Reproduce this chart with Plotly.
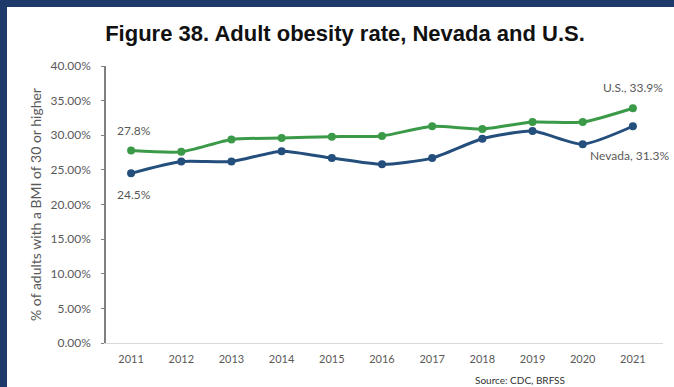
import plotly.graph_objects as go

years = [2011, 2012, 2013, 2014, 2015, 2016, 2017, 2018, 2019, 2020, 2021]
us_rate = [27.8, 27.6, 29.4, 29.6, 29.8, 29.9, 31.3, 30.9, 31.9, 31.9, 33.9]
nevada_rate = [24.5, 26.2, 26.2, 27.7, 26.7, 25.8, 26.7, 29.5, 30.6, 28.7, 31.3]
y_ticks = [0, 5, 10, 15, 20, 25, 30, 35, 40]

GREEN = "#3b9a48"
NAVY = "#244e7c"
BORDER = "#1d3a6a"
GRAY = "#595959"
FONT = "Lato, Open Sans, sans-serif"

L, R, T, B = 106, 11, 66, 44
W, H = 674, 387
pw = W - L - R
ph = H - T - B

def px(x):
    return (x - L) / pw

def py(y):
    return (H - B - y) / ph

fig = go.Figure()
fig.add_trace(go.Scatter(x=years, y=us_rate, mode="lines+markers", name="U.S.",
                         line=dict(color=GREEN, width=3, shape="spline", smoothing=0.6),
                         marker=dict(size=8, color=GREEN)))
fig.add_trace(go.Scatter(x=years, y=nevada_rate, mode="lines+markers", name="Nevada",
                         line=dict(color=NAVY, width=3, shape="spline", smoothing=0.6),
                         marker=dict(size=8, color=NAVY)))

ann_font = dict(family=FONT, size=12, color=GRAY)
fig.add_annotation(x=years[0], y=us_rate[0], text=f"{us_rate[0]}%", showarrow=False,
                   xanchor="center", yanchor="bottom", yshift=10, xshift=3, font=ann_font)
fig.add_annotation(x=years[0], y=nevada_rate[0], text=f"{nevada_rate[0]}%", showarrow=False,
                   xanchor="center", yanchor="top", yshift=-12, xshift=3, font=ann_font)
fig.add_annotation(x=years[-1], y=us_rate[-1], text=f"U.S., {us_rate[-1]}%", showarrow=False,
                   xanchor="center", yanchor="bottom", yshift=11, xshift=0, font=ann_font)
fig.add_annotation(x=years[-1], y=nevada_rate[-1], text=f"Nevada, {nevada_rate[-1]}%", showarrow=False,
                   xanchor="center", yanchor="top", yshift=-20, xshift=-3, font=ann_font)
fig.add_annotation(xref="paper", yref="paper", x=px(520), y=py(380), text="Source: CDC, BRFSS",
                   showarrow=False, xanchor="center", yanchor="middle",
                   font=dict(family=FONT, size=10, color="#333333"))

# dark frame strips (left and top)
fig.add_shape(type="rect", xref="paper", yref="paper", x0=px(0), x1=px(7), y0=py(H), y1=py(0),
              fillcolor=BORDER, line_width=0, layer="below")
fig.add_shape(type="rect", xref="paper", yref="paper", x0=px(0), x1=px(W), y0=py(7), y1=py(0),
              fillcolor=BORDER, line_width=0, layer="below")

fig.update_layout(
    width=W, height=H,
    margin=dict(l=L, r=R, t=T, b=B),
    paper_bgcolor="white", plot_bgcolor="white",
    showlegend=False,
    title=dict(text="<b>Figure 38. Adult obesity rate, Nevada and U.S.</b>",
               x=345 / W, xanchor="center", y=1 - 33 / H, yanchor="middle",
               font=dict(family="Liberation Sans, Arial, sans-serif", size=22, color="#111111")),
    xaxis=dict(range=[2010.5, 2021.6], tickmode="array", tickvals=years,
               ticktext=[str(y) for y in years], showgrid=False, zeroline=False,
               showline=True, linecolor="#d9d9d9", linewidth=1, ticks="",
               ticklabelstandoff=6,
               tickfont=dict(family=FONT, size=11, color=GRAY)),
    yaxis=dict(range=[0, 40], tickmode="array", tickvals=y_ticks,
               ticktext=[f"{v:.2f}%" for v in y_ticks], showgrid=False, zeroline=False,
               showline=True, linecolor="#808080", linewidth=1.5, ticks="outside",
               ticklen=3, tickcolor="#808080", ticklabelstandoff=8,
               tickfont=dict(family=FONT, size=12, color=GRAY),
               title=dict(text="% of adults with a BMI of 30 or higher", standoff=6,
                          font=dict(family=FONT, size=14, color=GRAY))),
)

fig.write_html("out.html", config={"displayModeBar": False},
               post_script="document.body.style.margin='0';document.body.style.overflow='hidden';")
